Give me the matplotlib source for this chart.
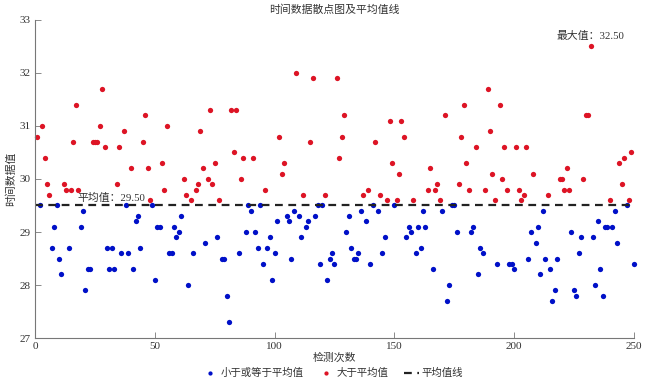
import matplotlib
matplotlib.use('Agg')
import matplotlib.pyplot as plt
import numpy as np

plt.rcParams['font.family'] = ['Liberation Serif', 'Noto Sans CJK SC', 'DejaVu Sans']

# 检测次数 1..250 的时间数据值
valores = [
    30.8, 29.5, 31.0, 30.4, 29.9, 29.7, 28.7, 29.1, 29.5, 28.5,
    28.2, 29.9, 29.8, 28.7, 29.8, 30.7, 31.4, 29.8, 29.1, 29.4,
    27.9, 28.3, 28.3, 30.7, 30.7, 30.7, 31.0, 31.7, 30.6, 28.7,
    28.3, 28.7, 28.3, 29.9, 30.6, 28.6, 30.9, 29.5, 28.6, 30.2,
    28.3, 29.2, 29.3, 28.7, 30.7, 31.2, 30.2, 29.6, 29.5, 28.1,
    29.1, 29.1, 30.3, 29.8, 31.0, 28.6, 28.6, 29.1, 28.9, 29.0,
    29.3, 30.0, 29.7, 28.0, 29.6, 28.6, 29.8, 29.9, 30.9, 30.2,
    28.8, 30.0, 31.3, 29.9, 30.3, 28.9, 29.6, 28.5, 28.5, 27.8,
    27.3, 31.3, 30.5, 31.3, 28.6, 30.0, 30.4, 29.0, 29.5, 29.4,
    30.4, 29.0, 28.7, 29.5, 28.4, 29.8, 28.7, 28.9, 28.1, 28.6,
    29.2, 30.8, 30.1, 30.3, 29.3, 29.2, 28.5, 29.4, 32.0, 29.3,
    28.9, 29.7, 29.1, 29.2, 30.7, 31.9, 29.3, 29.5, 28.4, 29.5,
    29.7, 28.1, 28.5, 28.6, 28.4, 31.9, 30.4, 30.8, 31.2, 29.0,
    29.3, 28.7, 28.5, 28.5, 28.6, 29.4, 29.7, 29.2, 29.8, 28.4,
    29.5, 30.7, 29.4, 29.7, 28.6, 28.9, 29.6, 31.1, 30.3, 29.5,
    29.6, 30.1, 31.1, 30.8, 28.9, 29.1, 29.0, 29.6, 28.6, 29.1,
    28.7, 29.4, 29.1, 29.8, 30.2, 28.3, 29.8, 29.9, 29.6, 29.4,
    31.2, 27.7, 28.0, 29.5, 29.5, 29.0, 29.9, 30.8, 31.4, 30.3,
    29.8, 29.0, 29.1, 30.6, 28.2, 28.7, 28.6, 29.8, 31.7, 30.9,
    30.1, 29.6, 28.4, 31.4, 30.0, 30.6, 29.8, 28.4, 28.4, 28.3,
    30.6, 29.8, 29.6, 29.7, 30.6, 28.5, 29.0, 30.1, 28.8, 29.1,
    28.2, 29.4, 28.5, 29.7, 28.3, 27.7, 27.9, 28.5, 30.0, 30.0,
    29.8, 30.2, 29.8, 29.0, 27.9, 27.8, 28.6, 28.9, 30.0, 31.2,
    31.2, 32.5, 28.9, 28.0, 29.2, 28.3, 27.8, 29.1, 29.1, 29.6,
    29.1, 29.4, 28.8, 30.3, 29.9, 30.4, 29.5, 29.6, 30.5, 28.4,
]
media = 29.5

y = np.array(valores)
x = np.arange(1, len(y) + 1)
abaixo = y <= media
acima = ~abaixo

fig = plt.figure(figsize=(6.5, 3.82), dpi=100)
ax = fig.add_axes([0.054, 0.115, 0.921, 0.833])

ax.plot(x[abaixo], y[abaixo], 'o', color='#0010c8', markersize=3.8,
        markeredgewidth=0, label='小于或等于平均值', clip_on=False)
ax.plot(x[acima], y[acima], 'o', color='#dd1425', markersize=3.8,
        markeredgewidth=0, label='大于平均值', clip_on=False)
ax.axhline(media, color='#222222', linestyle=(0, (3.5, 2.5)), linewidth=1.6,
           label='平均值线')

ax.text(32, media + 0.05, '平均值：%.2f' % media, ha='center', va='bottom',
        fontsize=7.8, color='#333333')
imax = int(np.argmax(y))
ax.text(x[imax], y[imax] + 0.1, '最大值：%.2f' % y[imax], ha='center', va='bottom',
        fontsize=7.8, color='#333333')

ax.set_xlim(0, 250)
ax.set_ylim(27, 33)
ax.set_xticks(np.arange(0, 251, 50))
ax.set_yticks(np.arange(27, 34, 1))
for s in ['top', 'right']:
    ax.spines[s].set_visible(False)
for s in ['left', 'bottom']:
    ax.spines[s].set_color('#777777')
    ax.spines[s].set_linewidth(0.8)
ax.tick_params(direction='in', length=4, width=0.6, color='#777777',
               labelsize=8, labelcolor='#333333', pad=3)

ax.set_title('时间数据散点图及平均值线', fontsize=7.8, color='#333333', pad=5)
ax.set_xlabel('检测次数', fontsize=7.8, color='#333333', labelpad=1)
ax.set_ylabel('时间数据值', fontsize=7.8, color='#333333', labelpad=2)
ax.yaxis.set_label_coords(-0.031, 0.5)

fig.legend(loc='center', bbox_to_anchor=(0.512, 0.023), ncol=3,
           frameon=False, fontsize=7.5, handlelength=1.4, handletextpad=0.3,
           columnspacing=1.5, markerscale=0.8, labelcolor='#333333',
           borderpad=0)

fig.savefig('out.png', dpi=100)
